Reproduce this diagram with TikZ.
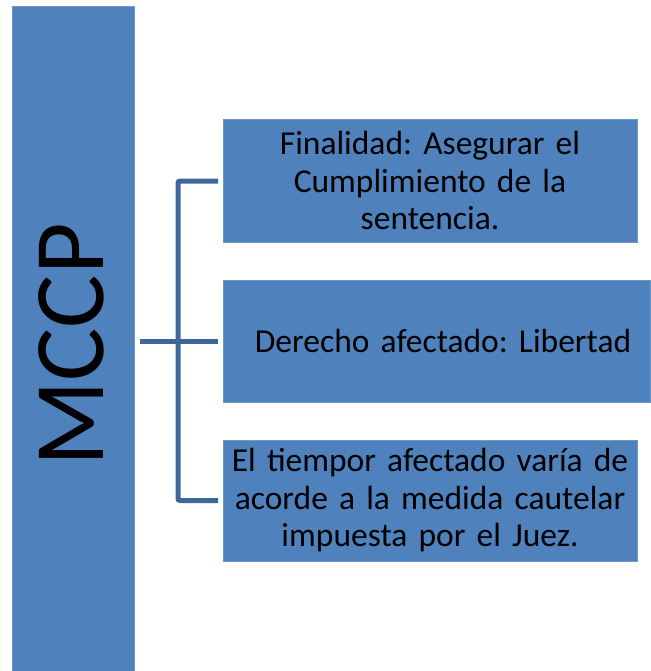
\documentclass[tikz,border=0pt]{standalone}
\usepackage{fontspec}
\setmainfont{Carlito}
\frenchspacing
\definecolor{boxfill}{HTML}{4F81BD}
\definecolor{boxline}{HTML}{7097C9}
\definecolor{connc}{HTML}{3E6799}
\begin{document}
\begin{tikzpicture}[x=1pt,y=-1pt,
  blk/.style={draw=boxline, line width=1pt, fill=boxfill, anchor=north west, inner sep=0pt, outer sep=0pt},
  itembox/.style={blk, align=center, font=\fontsize{33.5}{37.5}\selectfont, text=black},
  conn/.style={draw=connc, line width=5pt, rounded corners=2pt}]
\useasboundingbox (0,0) rectangle (650,671);
\node[blk, minimum width=122pt, minimum height=668pt] (bar) at (12,7) {};
\node[rotate=90, font=\fontsize{100}{104}\selectfont] (title) at (71,345) {MCCP};
\node[itembox, minimum width=414pt, minimum height=122pt, text width=410pt] (b1) at (223,120) {Finalidad: Asegurar el\\Cumplimiento de la\\sentencia.};
\node[itembox, minimum width=427pt, minimum height=122pt, text width=420pt] (b2) at (223,280) {\hspace*{13pt}Derecho afectado: Libertad};
\node[itembox, minimum width=414pt, minimum height=121pt, text width=410pt] (b3) at (223,440) {El tiempor afectado varía de\\acorde a la medida cautelar\\impuesta por el Juez.};
\coordinate (jx) at (178,341);
\draw[conn] ([xshift=6pt]bar.east |- b2.west) -- ([xshift=-5pt]b2.west);
\draw[conn] ([xshift=-5pt]b1.west) -| (jx) |- ([xshift=-5pt]b3.west);
\end{tikzpicture}
\end{document}
